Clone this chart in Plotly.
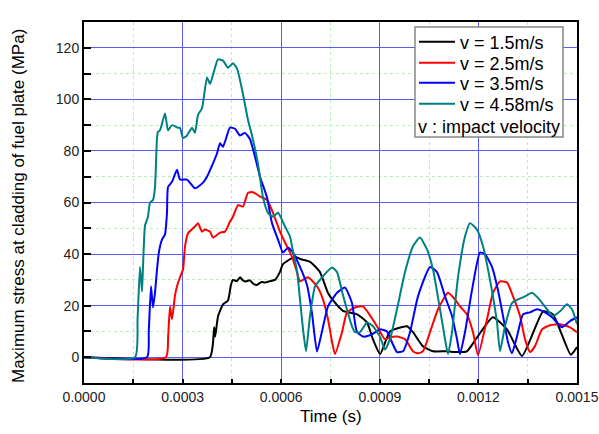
import plotly.graph_objects as go

# time in microseconds, stress in MPa
t_v15 = [0, 383, 392, 396, 399, 408, 423, 438, 447, 453, 465, 475, 482, 490, 505, 515, 526, 540, 551, 566, 581, 596, 605, 642, 660, 688, 718, 742, 758, 788, 831, 861, 879, 901, 931, 983, 1001, 1031, 1062, 1104, 1135, 1165, 1196, 1244, 1287, 1333, 1397, 1427, 1481, 1500]
s_v15 = [0, 0, 5, 11.6, 8, 16, 20.5, 22, 28, 30, 29.5, 31, 30, 29.4, 29.8, 28.5, 28, 29.2, 29, 29.5, 30, 33, 36, 39, 38, 37, 33, 25, 22, 18, 16.6, 13.5, 7, 1.2, 10, 12, 9.7, 4.3, 2.3, 2.3, 2, 2.3, 7.7, 15.5, 10.8, 0.5, 17.8, 16.6, 1, 3.9]

t_v25 = [0, 249.5, 256, 261.7, 267.7, 276.9, 283, 292.1, 301.2, 307.3, 316.4, 337.7, 346.9, 359, 368.2, 383.4, 392.5, 413.8, 429, 444.2, 453.3, 468.6, 483.8, 499, 514.2, 535.5, 556.8, 575.1, 596.3, 611.6, 632.9, 648.1, 657.2, 681.5, 708.9, 727.2, 742.4, 754.6, 763.7, 785, 800.2, 824.5, 848.9, 864.1, 891.5, 915.8, 931, 952.3, 976.7, 1001, 1016.2, 1031.4, 1052.7, 1077.1, 1107.5, 1128.8, 1144, 1165.3, 1183.6, 1198.8, 1226.2, 1244.4, 1265.7, 1287, 1305.3, 1326.6, 1341.8, 1357, 1372.2, 1393.5, 1417.8, 1448.3, 1478.7, 1500]
s_v25 = [0, 0, 8, 19.7, 14.7, 24, 27.5, 31, 34, 43, 48, 50.7, 52, 48.7, 49.5, 48.7, 46.4, 48.3, 48.7, 52.6, 54.5, 59, 58.4, 63.8, 64, 62.3, 61, 56, 48.7, 44.5, 39, 33, 29.4, 31, 27.5, 22.4, 14.7, 6, 1.2, 9.7, 17.4, 19.3, 19.7, 17.4, 12, 7, 7.7, 8, 7, 2.3, 1.5, 2.3, 9.7, 18.6, 25, 22.4, 19.7, 16.6, 9.7, 0.8, 14.7, 25, 29.4, 29, 23.6, 16, 7, 2, 4.3, 10.8, 12.4, 12.8, 11.6, 9.7]

t_v35 = [0, 191.7, 197, 203.9, 209.9, 216, 222.1, 228.2, 237.3, 246.5, 252.5, 255.6, 267.7, 283, 292.1, 313.4, 337.7, 362.1, 374.2, 389.5, 404.7, 413.8, 422.9, 444.2, 459.4, 474.6, 489.9, 505.1, 520.3, 535.5, 556.8, 572, 590.3, 605.5, 620.7, 635.9, 657.2, 678.5, 693.7, 708.9, 724.1, 742.4, 769.8, 794.1, 815.4, 830, 848.9, 870, 891, 900.6, 921.9, 937.1, 952.3, 970.6, 991.9, 1016.2, 1052.7, 1074, 1098.4, 1119.7, 1134.9, 1144, 1159.2, 1180.5, 1204.9, 1220.1, 1241.4, 1259.6, 1274.9, 1290.1, 1302.2, 1317.4, 1335.7, 1357, 1378.3, 1396.6, 1423.9, 1454.4, 1478.7, 1500]
s_v35 = [0, 0, 10, 27.5, 19.3, 25, 34, 41, 45.6, 47.6, 56, 66, 68, 72.7, 68.9, 68.9, 65.5, 67.7, 70, 74.3, 79, 83, 81.6, 89, 88.6, 86, 87, 84.5, 77.7, 70, 62, 52, 45.6, 40.6, 42.5, 40.6, 35, 28, 17, 2.2, 10, 19.7, 25, 27, 21, 10, 8, 8.5, 10, 10.8, 10, 5.8, 2, 2.3, 9.7, 23.6, 35, 33, 23.6, 16, 7, 1.2, 9.7, 26, 40.6, 40, 35, 26, 16, 5.8, 1.5, 8, 16.6, 17.4, 18.6, 17.8, 15.5, 11.6, 14, 15.5]

t_v458 = [0, 155.2, 163, 170.4, 176.5, 179.5, 185.6, 194.7, 200.8, 209.9, 216, 222.1, 225.2, 231.2, 246.5, 255.6, 267.7, 286, 292.1, 301.2, 313.4, 328.6, 337.7, 346.9, 359, 374.2, 383.4, 392.5, 407.7, 422.9, 438.1, 453.3, 465.5, 483.8, 499, 511.2, 529.4, 544.6, 559.8, 575.1, 590.3, 611.6, 626.8, 632.9, 648.1, 657.2, 666.3, 675.5, 687.6, 702.8, 718.1, 724.1, 754.6, 769.8, 788, 815.4, 824.5, 839.8, 861.1, 879.3, 900.6, 915.8, 931, 952.3, 976.7, 1001, 1022.3, 1043.6, 1061.9, 1083.2, 1098.4, 1107.5, 1119.7, 1137.9, 1159.2, 1174.5, 1195.7, 1214, 1235.3, 1256.6, 1265.7, 1280.9, 1302.2, 1320.5, 1341.8, 1363.1, 1381.3, 1408.7, 1427, 1448.3, 1469.6, 1484.8, 1500]
s_v458 = [0, 0, 15, 35, 25.5, 35, 51, 54.5, 60, 61, 66, 85, 87.4, 88, 94.5, 88, 90, 89, 89, 85, 86, 89, 87, 94, 96.5, 108.5, 106, 109.5, 115.5, 115, 112.3, 114, 112, 102, 92, 86, 75, 62, 56, 54.5, 56, 50.7, 46.8, 43, 33.5, 22.4, 11, 2.3, 16, 27.5, 30, 31, 34.8, 33, 24, 12, 9.7, 9.7, 13.5, 12, 8, 3, 7, 18.6, 33, 43, 46.4, 41.8, 34, 18.6, 7, 1.2, 9.7, 31, 46.8, 52, 49.5, 43, 30, 13.5, 2.3, 12, 21, 22.4, 23.6, 25, 23, 18.6, 16, 17.8, 20.5, 18.6, 12.8]

series = [
    ("v = 1.5m/s", t_v15, s_v15, "#000000"),
    ("v = 2.5m/s", t_v25, s_v25, "#ff0000"),
    ("v = 3.5m/s", t_v35, s_v35, "#0000ff"),
    ("v = 4.58m/s", t_v458, s_v458, "#008080"),
]

x_ticks = [0.0, 0.0003, 0.0006, 0.0009, 0.0012, 0.0015]
y_ticks = [0, 20, 40, 60, 80, 100, 120]

FONT = "Liberation Sans, Arial, sans-serif"

L, R, T, B = 84, 22, 22, 51
W, H = 599, 434
PW, PH = W - L - R, H - T - B


def px_x(px):
    return (px - L) / PW


def px_y(py):
    return (H - B - py) / PH


legend_names = ["legend", "legend2", "legend3", "legend4"]
row_y = [42, 63, 83, 104]

fig = go.Figure()
for (name, t, s, c), lg in zip(series, legend_names):
    fig.add_trace(go.Scatter(
        x=[v * 1e-6 for v in t], y=s, name=name, mode="lines",
        line=dict(color=c, width=2, shape="spline", smoothing=0.5),
        legend=lg,
    ))

legend_layout = {}
for lg, ry in zip(legend_names, row_y):
    legend_layout[lg] = dict(
        x=px_x(414), y=px_y(ry), xanchor="left", yanchor="middle",
        bgcolor="rgba(0,0,0,0)", borderwidth=0, itemwidth=36,
        font=dict(family=FONT, size=18, color="#000000"),
    )

fig.update_layout(
    width=W, height=H,
    margin=dict(l=L, r=R, t=T, b=B),
    paper_bgcolor="white", plot_bgcolor="white",
    font=dict(family=FONT, color="#000000"),
    showlegend=True,
    xaxis=dict(
        range=[0, 0.0015], tickvals=x_ticks, tickformat=".4f", automargin=False,
        ticks="inside", ticklen=4, tickwidth=1.5, tickcolor="#000",
        showline=True, linecolor="#000", linewidth=2, mirror=True,
        showgrid=True, gridcolor="#5a5aff", gridwidth=1,
        zeroline=False,
        tickfont=dict(family=FONT, size=14, color="#222"),
        minor=dict(dtick=0.00015, ticks="inside", ticklen=4, tickcolor="#000",
                   showgrid=True, gridcolor="#b8f0b8", griddash="dot", gridwidth=1),
    ),
    yaxis=dict(
        range=[-10, 130], tickvals=y_ticks, automargin=False,
        ticks="inside", ticklen=7, tickwidth=1.5, tickcolor="#000",
        showline=True, linecolor="#000", linewidth=2, mirror=True,
        showgrid=True, gridcolor="#5a5aff", gridwidth=1,
        zeroline=False,
        tickfont=dict(family=FONT, size=14, color="#222"),
        minor=dict(dtick=10, ticks="inside", ticklen=7, tickcolor="#000",
                   showgrid=True, gridcolor="#b8f0b8", griddash="dot", gridwidth=1),
    ),
    **legend_layout,
)

# legend frame
fig.add_shape(type="rect", xref="paper", yref="paper",
              x0=px_x(415), x1=px_x(563), y0=px_y(137), y1=px_y(27),
              line=dict(color="#888", width=1.5), fillcolor="white", layer="above")

fig.add_annotation(text="v : impact velocity", xref="paper", yref="paper",
                   x=px_x(416), y=px_y(127), xanchor="left", yanchor="middle",
                   showarrow=False, font=dict(family=FONT, size=18, color="#000"))

fig.add_annotation(text="Time (s)", xref="paper", yref="paper",
                   x=0.5, y=px_y(416), xanchor="center", yanchor="middle",
                   showarrow=False, font=dict(family=FONT, size=17, color="#000"))

fig.add_annotation(text="Maximum stress at cladding of fuel plate (MPa)", xref="paper", yref="paper",
                   x=px_x(18), y=px_y(206), xanchor="center", yanchor="middle",
                   textangle=-90, showarrow=False, font=dict(family=FONT, size=17, color="#000"))

fig.write_html("out.html")
